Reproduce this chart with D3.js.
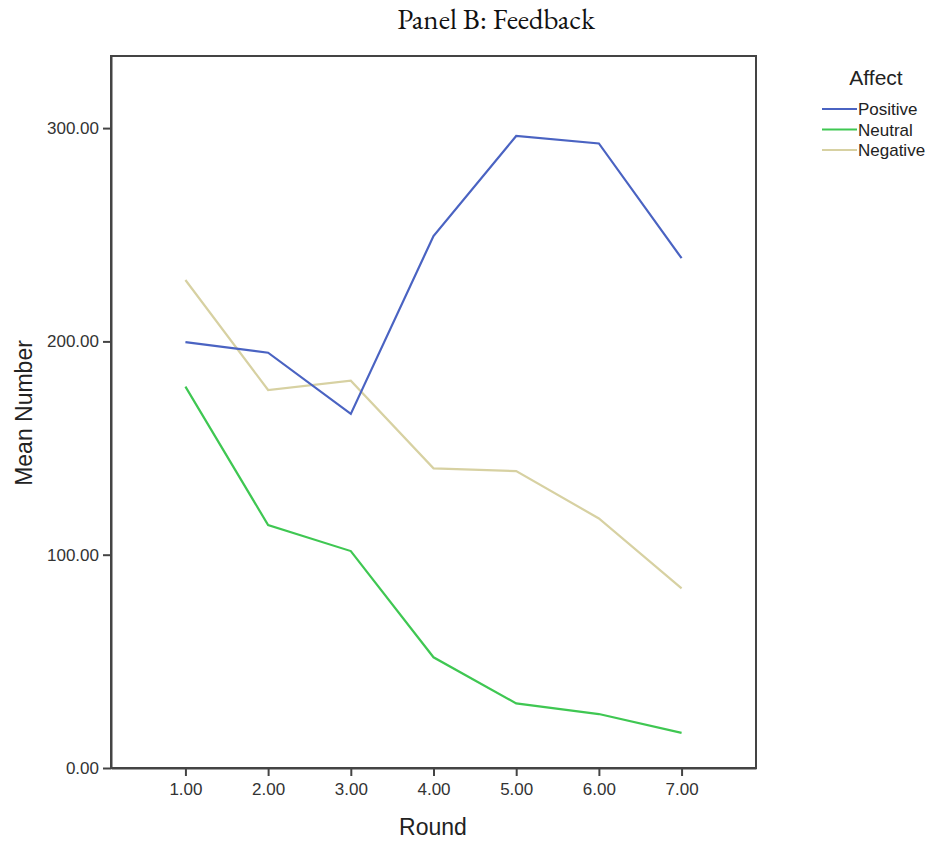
<!DOCTYPE html>
<meta charset="utf-8">
<style>

body {
  margin: 0;
  background: #fff;
}

.title {
  font-family: "EB Garamond", Garamond, "Liberation Serif", "DejaVu Serif", serif;
  font-size: 29px;
  fill: #111;
  text-anchor: middle;
}

.axis-label {
  font-family: "Liberation Sans", Arial, sans-serif;
  font-size: 23px;
  fill: #222;
  text-anchor: middle;
}

.tick text {
  font-family: "Liberation Sans", Arial, sans-serif;
  font-size: 17px;
  fill: #333;
}

.frame {
  fill: none;
  stroke: #444;
  stroke-width: 2px;
}

.series {
  fill: none;
  stroke-width: 2.2px;
}

.legend text {
  font-family: "Liberation Sans", Arial, sans-serif;
  fill: #222;
}

</style>
<svg width=933 height=843></svg>
<script src='https://cdnjs.cloudflare.com/ajax/libs/d3/7.8.5/d3.min.js'></script>
<script>

// data
const rounds = [1, 2, 3, 4, 5, 6, 7];
const positive = [199.7, 194.7, 166.0, 249.4, 296.3, 292.8, 239.0];
const neutral  = [178.8, 113.9, 101.7, 51.9, 30.3, 25.3, 16.5];
const negative = [228.8, 177.2, 181.6, 140.5, 139.2, 117.0, 84.2];
const seriesNames = ["Positive", "Neutral", "Negative"];
const seriesColours = {"Positive":"#4a63c2","Neutral":"#3fc752","Negative":"#d7d1a2"};
const yTicks = [0, 100, 200, 300];

const plot = {left: 111, right: 756, top: 56, bottom: 768};

let svg = d3.select("svg");

let x = d3.scaleLinear().domain([0.1, 7.9]).range([plot.left, plot.right]);
let y = d3.scaleLinear().domain([0, 333.8]).range([plot.bottom, plot.top]);

// title
svg.append("text")
  .attr("class", "title")
  .attr("x", 496)
  .attr("y", 29)
  .text("Panel B: Feedback");

// plot frame
svg.append("rect")
  .attr("class", "frame")
  .attr("x", plot.left)
  .attr("y", plot.top)
  .attr("width", plot.right - plot.left)
  .attr("height", plot.bottom - plot.top);

// axes
let xAxis = svg.append("g")
  .attr("transform", "translate(0," + plot.bottom + ")")
  .call(d3.axisBottom(x).tickValues(rounds).tickSize(8).tickSizeOuter(0).tickPadding(5)
    .tickFormat(d3.format(".2f")));

let yAxis = svg.append("g")
  .attr("transform", "translate(" + plot.left + ",0)")
  .call(d3.axisLeft(y).tickValues(yTicks).tickSize(8).tickSizeOuter(0).tickPadding(4)
    .tickFormat(d3.format(".2f")));

[xAxis, yAxis].forEach(a => {
  a.select(".domain").attr("stroke", "#444").attr("stroke-width", 2);
  a.selectAll(".tick line").attr("stroke", "#444").attr("stroke-width", 2);
});
xAxis.selectAll(".tick text").attr("dy", "0.85em");

// axis titles
svg.append("text")
  .attr("class", "axis-label")
  .attr("x", 433)
  .attr("y", 835)
  .text("Round");

svg.append("text")
  .attr("class", "axis-label")
  .attr("transform", "translate(32,413) rotate(-90)")
  .text("Mean Number");

// lines
const seriesData = {"Positive": positive, "Neutral": neutral, "Negative": negative};

let line = d3.line()
  .x((d, i) => x(rounds[i]))
  .y(d => y(d));

svg.selectAll(".series")
  .data(seriesNames.slice().reverse())
  .enter().append("path")
  .attr("class", "series")
  .attr("stroke", d => seriesColours[d])
  .attr("d", d => line(seriesData[d]));

// legend
let legend = svg.append("g").attr("class", "legend");

legend.append("text")
  .attr("x", 876)
  .attr("y", 85)
  .attr("text-anchor", "middle")
  .attr("font-size", "21px")
  .text("Affect");

let entry = legend.selectAll(".entry")
  .data(seriesNames)
  .enter().append("g")
  .attr("class", "entry")
  .attr("transform", (d, i) => "translate(0," + (109 + i * 20.5) + ")");

entry.append("line")
  .attr("x1", 822)
  .attr("x2", 857)
  .attr("stroke", d => seriesColours[d])
  .attr("stroke-width", 2.2);

entry.append("text")
  .attr("x", 858)
  .attr("y", 6)
  .attr("font-size", "17px")
  .text(d => d);

</script>
